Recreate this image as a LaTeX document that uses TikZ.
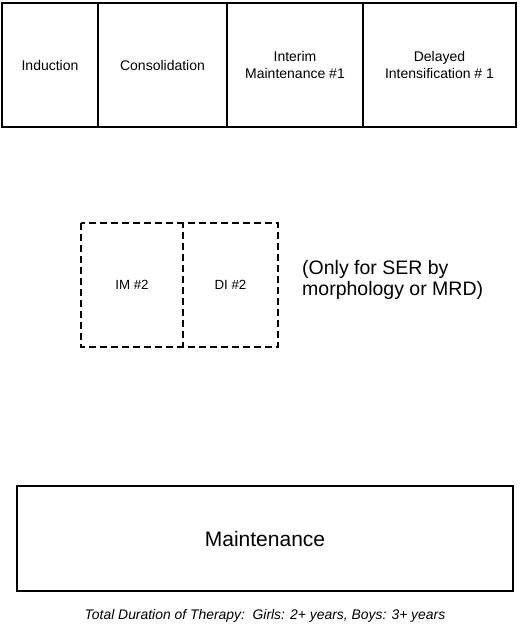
\documentclass[tikz,border=0pt]{standalone}
\usepackage{fontspec}
\setmainfont{Liberation Sans}
\begin{document}
\begin{tikzpicture}[x=1pt,y=-1pt,
  phase/.style={draw=black, line width=1.8pt, inner sep=0pt, outer sep=0pt, anchor=north west, align=center, font=\fontsize{14}{16.5}\selectfont},
  optbox/.style={inner sep=0pt, outer sep=0pt, anchor=north west, align=center, font=\fontsize{13.3}{16}\selectfont},
  dashline/.style={draw=black, line width=1.8pt, dash pattern=on 7pt off 4pt}]
\useasboundingbox (0,0) rectangle (520,624);
\node[phase, minimum width=96pt, minimum height=124pt] (ind) at (2,3) {Induction};
\node[phase, minimum width=129pt, minimum height=124pt] (con) at (98,3) {Consolidation};
\node[phase, minimum width=136pt, minimum height=124pt] (im1) at (227,3) {Interim\\Maintenance \#1};
\node[phase, minimum width=153pt, minimum height=124pt] (di1) at (363,3) {Delayed\\Intensification \# 1};
\node[optbox, minimum width=102pt, minimum height=124pt] (im2) at (81,223) {IM \#2};
\node[optbox, minimum width=95pt, minimum height=124pt] (di2) at (183,223) {DI \#2};
\draw[dashline] (im2.north west) rectangle (di2.south east);
\draw[dashline, dash phase=2pt] (im2.north east) -- (im2.south east);
\node[anchor=west, align=left, inner sep=0pt, font=\fontsize{19.5}{21}\selectfont] (note) at (302,280) {(Only for SER by\\morphology or MRD)};
\node[phase, minimum width=496pt, minimum height=105pt, font=\fontsize{21}{24}\selectfont] (mnt) at (17,486) {Maintenance};
\node[inner sep=0pt, anchor=base, font=\fontsize{13.9}{16}\selectfont\itshape] (tot) at (265,619) {Total Duration of Therapy:\ \ Girls: 2+ years, Boys: 3+ years};
\end{tikzpicture}
\end{document}
